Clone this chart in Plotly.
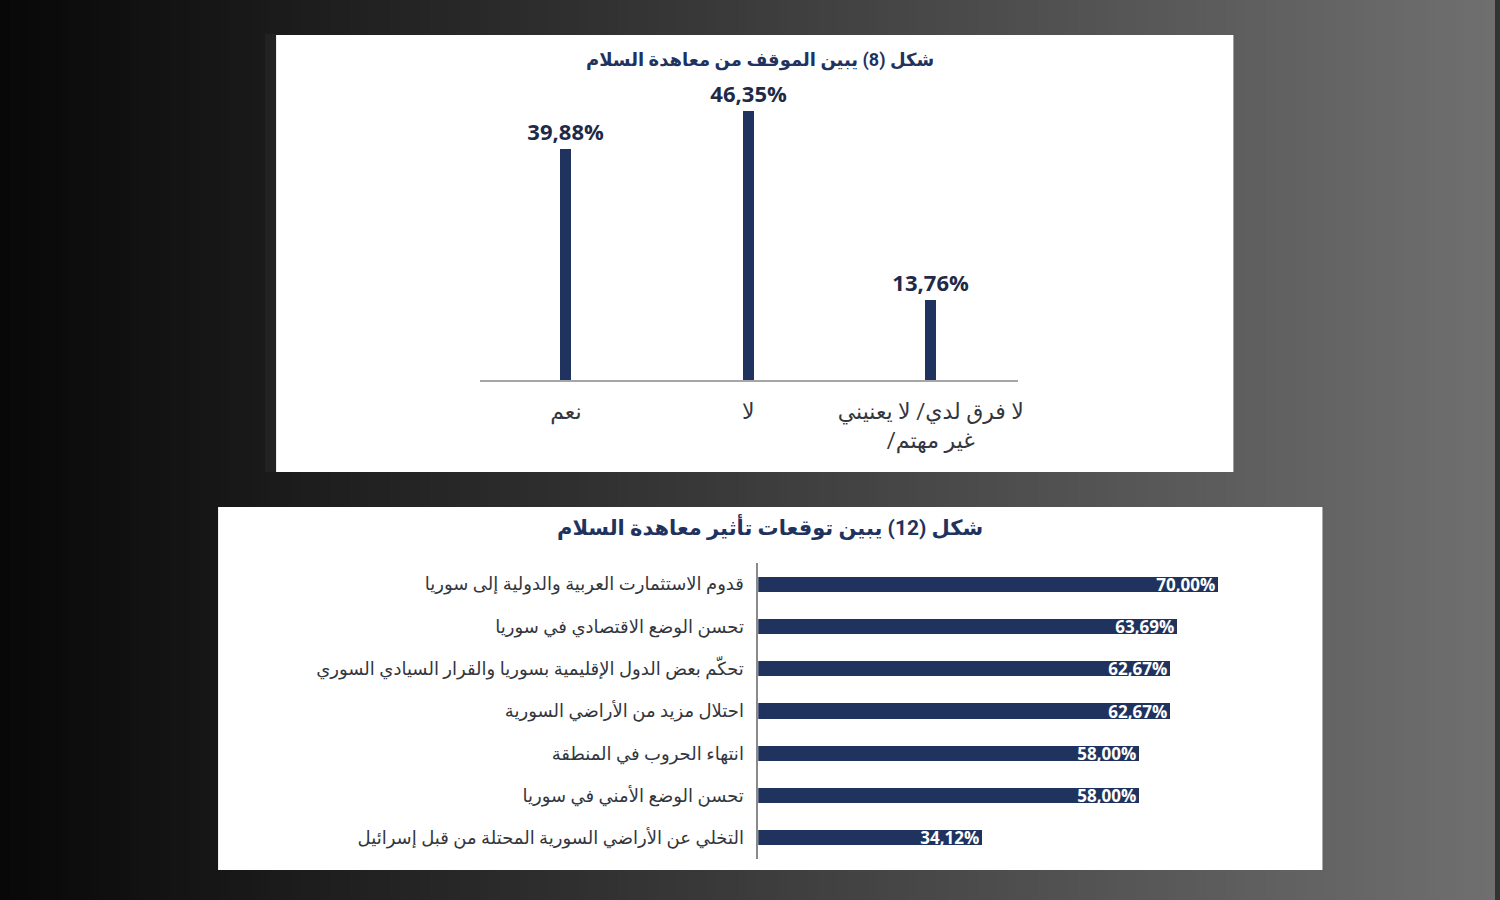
import plotly.graph_objects as go

# ----------------------------
# Data
# ----------------------------
TOP_TITLE = "شكل (8) يبين الموقف من معاهدة السلام"
top_categories = ["نعم", "لا", "لا فرق لدي/ لا يعنيني<br>/غير مهتم"]
top_values = [39.88, 46.35, 13.76]

BOTTOM_TITLE = "شكل (12) يبين توقعات تأثير معاهدة السلام"
bottom_categories = [
    "قدوم الاستثمارت العربية والدولية إلى سوريا",
    "تحسن الوضع الاقتصادي في سوريا",
    "تحكّم بعض الدول الإقليمية بسوريا والقرار السيادي السوري",
    "احتلال مزيد من الأراضي السورية",
    "انتهاء الحروب في المنطقة",
    "تحسن الوضع الأمني في سوريا",
    "التخلي عن الأراضي السورية المحتلة من قبل إسرائيل",
]
bottom_values = [70.00, 63.69, 62.67, 62.67, 58.00, 58.00, 34.12]


def pct(v):
    return f"{v:.2f}".replace(".", ",") + "%"


# ----------------------------
# Styles
# ----------------------------
W, H = 1500, 900
SX = 1494.5          # horizontal px scale that lines up with the captured page
NAVY = "#1f335e"
LABEL_NAVY = "#1f2a48"
LABEL_GREY = "#33363d"
FONT = "Roboto, DejaVu Sans, sans-serif"
NUM_FONT = "Open Sans, Roboto, sans-serif"


def px_x(p):
    return p / SX


def px_y(p):
    return 1 - p / H


fig = go.Figure()

fig.add_trace(
    go.Bar(
        x=top_categories,
        y=top_values,
        width=0.062,
        marker=dict(color=NAVY, line=dict(width=0)),
        text=[pct(v) for v in top_values],
        textposition="outside",
        constraintext="none",
        cliponaxis=False,
        textfont=dict(family=NUM_FONT, size=22, color=LABEL_NAVY, weight="bold"),
        xaxis="x",
        yaxis="y",
        hoverinfo="skip",
    )
)

fig.add_trace(
    go.Bar(
        x=bottom_values,
        y=bottom_categories,
        orientation="h",
        width=0.36,
        marker=dict(color=NAVY, line=dict(width=0)),
        text=[pct(v) for v in bottom_values],
        textposition="inside",
        insidetextanchor="end",
        constraintext="none",
        textfont=dict(family=NUM_FONT, size=17, color="white", weight="bold"),
        xaxis="x2",
        yaxis="y2",
        hoverinfo="skip",
    )
)

# ----------------------------
# Background: gradient + white panels
# ----------------------------
shapes = []
n_strips = 150
for i in range(n_strips):
    g = int(8 + (112 - 8) * (i + 0.5) / n_strips)
    shapes.append(dict(
        type="rect", xref="paper", yref="paper", layer="below",
        x0=i / n_strips, x1=min(1.0, (i + 1) / n_strips + 0.001), y0=0, y1=1,
        fillcolor=f"rgb({g},{g},{g})", line=dict(width=0),
    ))

# faint strip left of the top panel
shapes.append(dict(
    type="rect", xref="paper", yref="paper", layer="below",
    x0=px_x(265), x1=px_x(277), y0=px_y(472), y1=px_y(34),
    fillcolor="#222222", line=dict(width=0),
))
# top panel
shapes.append(dict(
    type="rect", xref="paper", yref="paper", layer="below",
    x0=px_x(276), x1=px_x(1233), y0=px_y(472), y1=px_y(35),
    fillcolor="white", line=dict(width=0),
))
# bottom panel
shapes.append(dict(
    type="rect", xref="paper", yref="paper", layer="below",
    x0=px_x(218), x1=px_x(1322), y0=px_y(870), y1=px_y(507),
    fillcolor="white", line=dict(width=0),
))

# ----------------------------
# Layout
# ----------------------------
fig.update_layout(
    width=W,
    height=H,
    autosize=False,
    margin=dict(l=0, r=0, t=0, b=0),
    paper_bgcolor="#333333",
    plot_bgcolor="rgba(0,0,0,0)",
    showlegend=False,
    shapes=shapes,
    bargap=0,
    font=dict(family=FONT, color=LABEL_GREY),

    xaxis=dict(
        domain=[px_x(480), px_x(1018)],
        anchor="y",
        range=[-0.47, 2.48],
        showline=True, linecolor="#a6a6a6", linewidth=2,
        showgrid=False, zeroline=False, ticks="",
        ticklabelstandoff=11,
        tickfont=dict(family=FONT, size=22, color=LABEL_GREY),
    ),
    yaxis=dict(
        domain=[px_y(380), px_y(100)],
        anchor="x",
        range=[0, 48.28],
        visible=False,
    ),

    xaxis2=dict(
        domain=[px_x(758), px_x(1300)],
        anchor="y2",
        range=[0, 82.48],
        visible=False,
    ),
    yaxis2=dict(
        domain=[px_y(859), px_y(563)],
        anchor="x2",
        categoryorder="array",
        categoryarray=bottom_categories,
        range=[6.5, -0.5],
        showline=True, linecolor="#8a8a8a", linewidth=1.5,
        showgrid=False, zeroline=False, ticks="",
        ticklabelstandoff=9,
        tickfont=dict(family=FONT, size=18, color=LABEL_GREY),
    ),

    annotations=[
        dict(
            text=TOP_TITLE, xref="paper", yref="paper",
            x=px_x(760), y=px_y(60), xanchor="center", yanchor="middle",
            showarrow=False,
            font=dict(family=FONT, size=18, color=NAVY, weight="bold"),
        ),
        dict(
            text=BOTTOM_TITLE, xref="paper", yref="paper",
            x=px_x(770), y=px_y(526), xanchor="center", yanchor="middle",
            showarrow=False,
            font=dict(family=FONT, size=21, color=NAVY, weight="bold"),
        ),
    ],
)

fig.write_html(
    "out.html",
    config={"displayModeBar": False, "responsive": False},
    post_script=(
        "document.documentElement.style.margin='0';"
        "document.documentElement.style.overflow='hidden';"
        "document.body.style.margin='0';"
        "document.body.style.overflow='hidden';"
        "var d=document.getElementById('{plot_id}');"
        "d.style.position='fixed';d.style.left='0px';d.style.top='0px';"
    ),
)
